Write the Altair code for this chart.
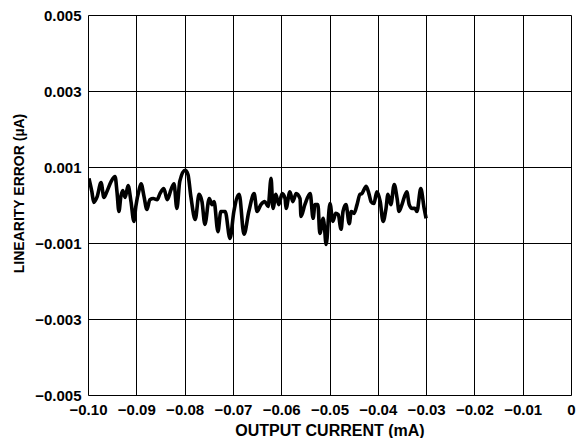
import altair as alt
import pandas as pd

# Output current (mA)
current = [
    -0.0998, -0.0992, -0.0988, -0.0981, -0.0973, -0.0967, -0.0961, -0.0952, -0.0944, -0.0940,
    -0.0936, -0.0932, -0.0928, -0.0923, -0.0917, -0.0911, -0.0905, -0.0901, -0.0894, -0.0890,
    -0.0884, -0.0878, -0.0872, -0.0865, -0.0857, -0.0851, -0.0843, -0.0836, -0.0828, -0.0822,
    -0.0816, -0.0810, -0.0799, -0.0793, -0.0787, -0.0778, -0.0770, -0.0764, -0.0758, -0.0749,
    -0.0743, -0.0739, -0.0731, -0.0725, -0.0716, -0.0706, -0.0698, -0.0687, -0.0677, -0.0667,
    -0.0656, -0.0650, -0.0642, -0.0634, -0.0627, -0.0621, -0.0617, -0.0611, -0.0605, -0.0598,
    -0.0592, -0.0590, -0.0582, -0.0576, -0.0569, -0.0561, -0.0559, -0.0551, -0.0540, -0.0534,
    -0.0530, -0.0524, -0.0520, -0.0513, -0.0511, -0.0507, -0.0499, -0.0493, -0.0487, -0.0482,
    -0.0476, -0.0472, -0.0466, -0.0459, -0.0455, -0.0449, -0.0443, -0.0437, -0.0433, -0.0424,
    -0.0418, -0.0414, -0.0408, -0.0402, -0.0395, -0.0389, -0.0383, -0.0379, -0.0373, -0.0366,
    -0.0360, -0.0356, -0.0350, -0.0340, -0.0335, -0.0329, -0.0323, -0.0319, -0.0311, -0.0304,
    -0.0300,
]

# Linearity error
error = [
    0.00070, 0.00035, 0.00007, 0.00022, 0.00059, 0.00020, 0.00035, 0.00062, 0.00075, 0.00035,
    -0.00017, 0.00022, 0.00038, 0.00020, 0.00051, 0.00009, -0.00043, -0.00004, 0.00041, 0.00056,
    0.00022, -0.00012, 0.00014, 0.00017, 0.00014, 0.00030, 0.00043, 0.00014, 0.00041, 0.00056,
    -0.00009, 0.00062, 0.00091, 0.00080, 0.00022, -0.00038, 0.00028, 0.00009, -0.00051, 0.00017,
    0.00001, 0.00009, -0.00070, -0.00017, -0.00017, -0.00088, -0.00017, 0.00028, -0.00077, -0.00017,
    0.00030, -0.00017, 0.00001, 0.00009, -0.00004, 0.00070, -0.00009, 0.00028, 0.00001, 0.00030,
    0.00017, -0.00009, 0.00035, 0.00009, 0.00030, 0.00017, -0.00030, 0.00001, 0.00030, -0.00035,
    0.00001, 0.00001, -0.00075, -0.00035, -0.00051, -0.00104, 0.00004, -0.00043, -0.00022, -0.00025,
    -0.00064, -0.00017, 0.00001, -0.00049, -0.00017, -0.00022, 0.00001, 0.00028, 0.00030, 0.00049,
    0.00028, 0.00009, 0.00004, 0.00035, 0.00009, -0.00043, -0.00009, 0.00028, 0.00001, 0.00054,
    0.00017, -0.00017, 0.00001, 0.00035, 0.00001, -0.00009, -0.00009, -0.00017, 0.00043, -0.00009,
    -0.00035,
]

x_ticks = [-0.10, -0.09, -0.08, -0.07, -0.06, -0.05, -0.04, -0.03, -0.02, -0.01, 0.0]
y_ticks = [-0.005, -0.003, -0.001, 0.001, 0.003, 0.005]

df = pd.DataFrame({"current": current, "error": error})

FONT = "Liberation Sans"

chart = (
    alt.Chart(df)
    .mark_line(color="black", strokeWidth=3.6, interpolate="monotone", clip=True)
    .encode(
        x=alt.X(
            "current:Q",
            scale=alt.Scale(domain=[-0.1, 0.0], nice=False, zero=False),
            axis=alt.Axis(
                values=x_ticks,
                title="OUTPUT CURRENT (mA)",
                labelExpr="datum.value == 0 ? '0' : replace(format(datum.value, '.2f'), '-', '–')",
                ticks=False,
                domain=False,
                grid=True,
                gridColor="black",
                gridWidth=1,
                gridOpacity=1,
                labelPadding=7,
                labelFont=FONT,
                labelFontSize=15,
                labelFontWeight="bold",
                labelColor="black",
                labelFlush=False,
                labelOverlap=False,
                titleFont=FONT,
                titleFontSize=16,
                titleFontWeight="bold",
                titleColor="black",
                titleY=35,
                titleBaseline="middle",
            ),
        ),
        y=alt.Y(
            "error:Q",
            scale=alt.Scale(domain=[-0.005, 0.005], nice=False, zero=False),
            axis=alt.Axis(
                values=y_ticks,
                title="LINEARITY ERROR (µA)",
                labelExpr="replace(format(datum.value, '.3f'), '-', '–')",
                ticks=False,
                domain=False,
                grid=True,
                gridColor="black",
                gridWidth=1,
                gridOpacity=1,
                labelPadding=7,
                labelFont=FONT,
                labelFontSize=15,
                labelFontWeight="bold",
                labelColor="black",
                labelFlush=False,
                labelOverlap=False,
                titleFont=FONT,
                titleFontSize=14,
                titleFontWeight="bold",
                titleColor="black",
                titleX=-69,
                titleY=178,
                titleAlign="center",
                titleBaseline="middle",
                titleAngle=270,
            ),
        ),
    )
    .properties(
        width=483,
        height=380,
        autosize="none",
        padding={"left": 80, "top": 7, "right": 8, "bottom": 43},
    )
    .configure_view(stroke="black", strokeWidth=1.5)
    .configure(background="white")
)

chart.save("out.html", embed_options={"renderer": "svg", "actions": False})
